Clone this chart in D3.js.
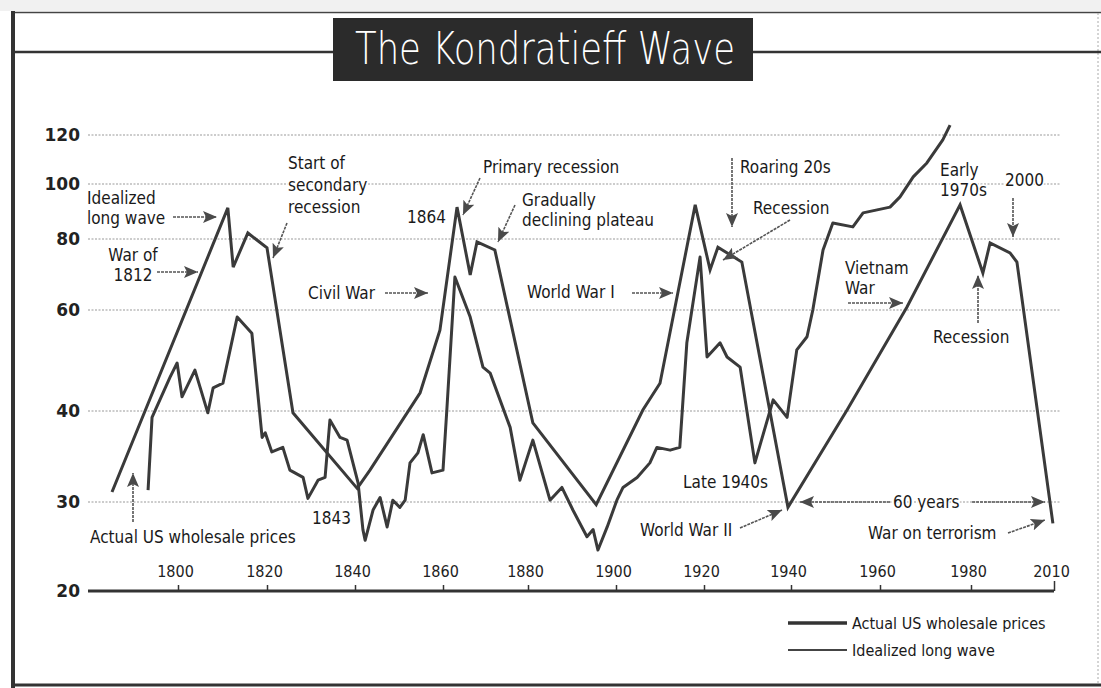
<!DOCTYPE html>
<html>
<head>
<meta charset="utf-8">
<script src="https://cdn.jsdelivr.net/npm/d3@7"></script>
<style>
  body { margin: 0; background: #fff; }
  text { font-family: "DejaVu Sans Condensed", "DejaVu Sans", sans-serif; font-stretch: condensed; fill: #1a1a1a; }
</style>
</head>
<body>
<svg id="chart" width="1101" height="688"></svg>
<script>
// axis ticks
const yearTicks = [1800, 1820, 1840, 1860, 1880, 1900, 1920, 1940, 1960, 1980, 2010];
const priceTicks = [20, 30, 40, 60, 80, 100, 120];

// idealized long wave (year, price)
const idealYears = [1785, 1811.2, 1812.4, 1815.7, 1820, 1825.9, 1840.5,
  1843.4, 1854.8, 1859.3, 1863.3, 1866.4, 1868, 1872.2, 1881.1, 1895.5,
  1906.1, 1910, 1918, 1921.4, 1923.2, 1928.7, 1939.3,
  1952.6, 1965.9, 1977.6, 1984.3, 1986.9, 1994.1, 1996.6, 2009.6];
const idealValues = [31.1, 91.3, 72.1, 82.2, 77.5, 39.8, 31.5,
  33.5, 43.6, 56.0, 91.6, 69.9, 79.2, 76.9, 38.7, 29.7,
  40.2, 45.5, 92.4, 71.3, 77.7, 73.5, 29.4,
  40.2, 60.8, 92.4, 70.4, 78.9, 76.1, 73.5, 27.6];

// actual US wholesale prices (year, price)
const actualYears = [1793.2, 1794.1, 1798.2, 1799.8, 1800.9, 1803.8, 1806.7, 1807.9, 1810.1,
  1813.3, 1816.6, 1818.9, 1819.6, 1821.1, 1823.6, 1825.2, 1828.2, 1829.3, 1831.6, 1833.2,
  1834.3, 1836.6, 1838.2, 1840.7, 1841.8, 1842.3, 1844.1, 1845.7, 1847.3, 1848.6, 1850.2,
  1851.4, 1852.5, 1854.3, 1855.5, 1857.5, 1860, 1860.9, 1862.8, 1866.4, 1869.4, 1871.1,
  1875.8, 1878.1, 1881.1, 1885, 1887.7, 1890.2, 1893.4, 1894.8, 1895.9, 1898, 1900.2,
  1901.6, 1904.8, 1907.7, 1909.3, 1912.3, 1914.5, 1916.1, 1919.1, 1920.7, 1923.7, 1925.3,
  1928.3, 1931.7, 1935.9, 1939.1, 1941.3, 1943.6, 1944.9, 1947.2, 1949.4, 1953.9, 1956.2,
  1962.2, 1964.4, 1967.3, 1970.3, 1973.8, 1975.4];
const actualValues = [31.3, 39.3, 46.7, 49.5, 42.8, 48.1, 39.8, 44.6, 45.5,
  58.6, 55.4, 37.1, 37.6, 35.5, 36.0, 33.5, 32.7, 30.4, 32.4, 32.7,
  39.0, 37.1, 36.8, 32.1, 26.9, 25.7, 29.1, 30.5, 27.2, 30.2, 29.4,
  30.2, 34.3, 35.4, 37.4, 33.2, 33.5, 40.2, 69.3, 58.6, 48.7, 47.5,
  38.2, 32.4, 36.8, 30.2, 31.6, 29.1, 26.1, 26.9, 24.6, 27.2, 30.2,
  31.6, 32.7, 34.3, 36.0, 35.7, 36.0, 53.5, 74.9, 50.7, 53.5, 50.7,
  48.7, 34.3, 42.2, 39.3, 52.1, 54.7, 60.0, 76.9, 85.8, 84.4, 89.5,
  91.6, 95.3, 102.9, 108.6, 118, 124];

const notes = [
  { lines: ["Idealized", "long wave"], x: 87, y: 204 },
  { lines: ["Start of", "secondary", "recession"], x: 288, y: 169, lh: 22 },
  { lines: ["War of", "1812"], x: 133, y: 261, anchor: "middle" },
  { lines: ["Civil War"], x: 308, y: 299 },
  { lines: ["Primary recession"], x: 483, y: 173 },
  { lines: ["1864"], x: 407, y: 223 },
  { lines: ["Gradually", "declining plateau"], x: 522, y: 206 },
  { lines: ["World War I"], x: 527, y: 298 },
  { lines: ["Roaring 20s"], x: 740, y: 173 },
  { lines: ["Recession"], x: 753, y: 214 },
  { lines: ["Vietnam", "War"], x: 845, y: 274 },
  { lines: ["Early", "1970s"], x: 940, y: 176 },
  { lines: ["2000"], x: 1005, y: 186 },
  { lines: ["Recession"], x: 933, y: 343 },
  { lines: ["Late 1940s"], x: 683, y: 488 },
  { lines: ["World War II"], x: 640, y: 536 },
  { lines: ["60 years"], x: 893, y: 508 },
  { lines: ["War on terrorism"], x: 868, y: 539 },
  { lines: ["Actual US wholesale prices"], x: 90, y: 543 },
  { lines: ["1843"], x: 312, y: 524 }
];

// [x1, y1, x2, y2], head at the second point
const arrows = [
  [173, 217, 217, 217], [287, 223, 273, 258], [157, 272, 198, 272], [385, 293, 428, 293],
  [480, 178, 463, 215], [515, 205, 498, 242], [632, 293, 673, 293], [732, 158, 732, 227],
  [790, 220, 723, 260], [848, 303, 903, 303], [1013, 198, 1013, 237], [978, 323, 978, 275],
  [740, 528, 782, 510], [890, 502, 800, 502], [972, 502, 1045, 502], [1008, 533, 1045, 520],
  [133, 522, 133, 473]
];

const svg = d3.select("#chart");

// the chart is hand drawn, so both axes are piecewise
const x = d3.scaleLinear()
  .domain([1780, 1800, 1820, 1840, 1860, 1880, 1900, 1920, 1940, 1960, 1980, 2010])
  .range([90, 178, 267, 355, 443, 528, 616, 704, 791, 880, 971, 1054]);
const y = d3.scaleLinear()
  .domain(priceTicks)
  .range([591, 502, 411, 310, 239, 184, 135]);

// frame
svg.append("rect").attr("x", 0).attr("y", 0).attr("width", 1101).attr("height", 11).attr("fill", "#f1f1f1");
svg.append("line").attr("x1", 11).attr("x2", 1101).attr("y1", 12.5).attr("y2", 12.5)
  .attr("stroke", "#444").attr("stroke-width", 1.5);
svg.append("line").attr("x1", 13).attr("x2", 13).attr("y1", 11).attr("y2", 688)
  .attr("stroke", "#333").attr("stroke-width", 4);
svg.append("line").attr("x1", 1098).attr("x2", 1098).attr("y1", 13).attr("y2", 686)
  .attr("stroke", "#aaa").attr("stroke-width", 1).attr("stroke-dasharray", "2,2");
svg.append("line").attr("x1", 13).attr("x2", 1101).attr("y1", 685).attr("y2", 685)
  .attr("stroke", "#333").attr("stroke-width", 3);
svg.append("line").attr("x1", 13).attr("x2", 333).attr("y1", 52).attr("y2", 52)
  .attr("stroke", "#333").attr("stroke-width", 2.5);
svg.append("line").attr("x1", 753).attr("x2", 1101).attr("y1", 52).attr("y2", 52)
  .attr("stroke", "#333").attr("stroke-width", 2.5);

// title
svg.append("rect").attr("x", 333).attr("y", 18).attr("width", 420).attr("height", 63).attr("fill", "#2b2b2b");
svg.append("text").attr("x", 355).attr("y", 64)
  .attr("textLength", 380).attr("lengthAdjust", "spacingAndGlyphs")
  .style("font-family", "'DejaVu Sans', sans-serif").style("font-stretch", "normal")
  .style("font-size", "44px").style("fill", "#fff").style("font-weight", "300")
  .text("The Kondratieff Wave");

// gridlines
svg.append("g").selectAll("line")
  .data(priceTicks.slice(1))
  .join("line")
  .attr("x1", 88).attr("x2", 1060)
  .attr("y1", d => y(d)).attr("y2", d => y(d))
  .attr("stroke", "#999").attr("stroke-width", 1).attr("stroke-dasharray", "2,1.5");

// y labels
const yAxis = svg.append("g")
  .attr("transform", "translate(80,0)")
  .call(d3.axisLeft(y).tickValues(priceTicks).tickSize(0).tickPadding(0));
yAxis.select(".domain").remove();
yAxis.selectAll("text")
  .style("font-family", "'DejaVu Sans', sans-serif").style("font-stretch", "normal")
  .style("font-size", "17px").style("font-weight", "bold").style("fill", "#222");

// x axis, labels above the baseline
const xAxis = svg.append("g")
  .attr("transform", `translate(0,${y(20)})`)
  .call(d3.axisTop(x).tickValues(yearTicks).tickSize(6).tickPadding(8).tickFormat(d3.format("d")));
xAxis.select(".domain").remove();
xAxis.selectAll(".tick line").attr("stroke", "#333").attr("stroke-width", 1.5)
  .attr("y2", d => d === 2010 ? -10 : -6);
xAxis.selectAll("text").attr("dx", -3)
  .style("font-size", "16px").style("fill", "#222");
svg.append("line").attr("x1", 88).attr("x2", x(2010)).attr("y1", y(20)).attr("y2", y(20))
  .attr("stroke", "#333").attr("stroke-width", 3);

// series
const line = d3.line().x(d => x(d[0])).y(d => y(d[1]));
svg.append("path")
  .datum(d3.zip(idealYears, idealValues))
  .attr("d", line).attr("fill", "none")
  .attr("stroke", "#3a3a3a").attr("stroke-width", 3).attr("stroke-linejoin", "miter");
svg.append("path")
  .datum(d3.zip(actualYears, actualValues))
  .attr("d", line).attr("fill", "none")
  .attr("stroke", "#3a3a3a").attr("stroke-width", 3).attr("stroke-linejoin", "round");

// arrows
svg.append("defs").append("marker")
  .attr("id", "head").attr("viewBox", "0 0 14 12")
  .attr("refX", 14).attr("refY", 6)
  .attr("markerWidth", 14).attr("markerHeight", 12)
  .attr("markerUnits", "userSpaceOnUse").attr("orient", "auto")
  .append("path").attr("d", "M0,0L14,6L0,12L3,6Z").attr("fill", "#4a4a4a");
svg.append("g").selectAll("line")
  .data(arrows)
  .join("line")
  .attr("x1", d => d[0]).attr("y1", d => d[1])
  .attr("x2", d => d[2]).attr("y2", d => d[3])
  .attr("stroke", "#555").attr("stroke-width", 1.6).attr("stroke-dasharray", "3,1")
  .attr("marker-end", "url(#head)");

// annotations
const noteG = svg.append("g").selectAll("text")
  .data(notes)
  .join("text")
  .attr("x", d => d.x).attr("y", d => d.y)
  .attr("text-anchor", d => d.anchor || "start")
  .style("font-size", "17px")
  .attr("stroke", "#fff").attr("stroke-width", 3).attr("paint-order", "stroke");
noteG.selectAll("tspan")
  .data(d => d.lines.map((t, i) => ({ t, i, x: d.x, lh: d.lh || 20 })))
  .join("tspan")
  .attr("x", d => d.x)
  .attr("dy", d => d.i === 0 ? 0 : d.lh)
  .text(d => d.t);

// legend
const legend = svg.append("g");
legend.append("line").attr("x1", 788).attr("x2", 847).attr("y1", 623).attr("y2", 623)
  .attr("stroke", "#333").attr("stroke-width", 3.5);
legend.append("line").attr("x1", 788).attr("x2", 847).attr("y1", 650).attr("y2", 650)
  .attr("stroke", "#444").attr("stroke-width", 2);
legend.append("text").attr("x", 852).attr("y", 629).style("font-size", "16px").text("Actual US wholesale prices");
legend.append("text").attr("x", 852).attr("y", 656).style("font-size", "16px").text("Idealized long wave");
</script>
</body>
</html>
